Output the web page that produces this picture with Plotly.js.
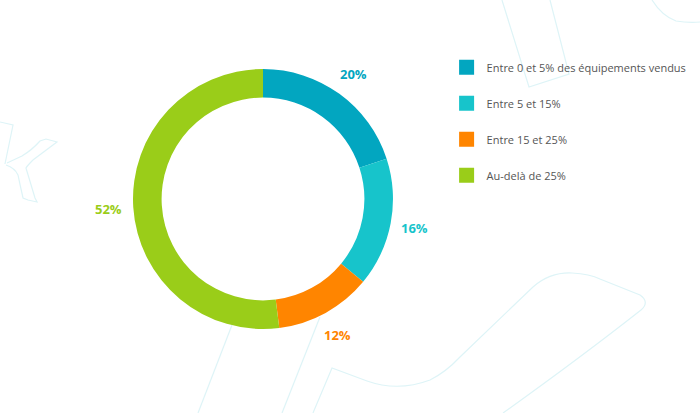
<!DOCTYPE html>
<html>
<head>
<meta charset="utf-8">
<script src="https://cdn.plot.ly/plotly-3.0.1.min.js"></script>
<style>
  html, body { margin: 0; padding: 0; background: #ffffff; }
  #chart { width: 700px; height: 413px; }
</style>
</head>
<body>
<div id="chart"></div>
<script>
// Données
var categories = [
    "Entre 0 et 5% des équipements vendus",
    "Entre 5 et 15%",
    "Entre 15 et 25%",
    "Au-delà de 25%"
];
var values = [20, 16, 12, 52];

var colors = ["#02a6c0", "#17c4cb", "#ff8500", "#9acd19"];
var decoColor = "#def4f7";

var W = 700, H = 413;
var pieDomain = { x: [0.19, 0.5614], y: [0.2034, 0.8329] };

var traces = [];

// Anneau principal
traces.push({
    type: "pie",
    labels: categories,
    values: values,
    hole: 0.78,
    sort: false,
    direction: "clockwise",
    rotation: 0,
    showlegend: false,
    marker: { colors: colors, line: { width: 0 } },
    textinfo: "none",
    hoverinfo: "label+percent",
    domain: pieDomain
});

// Légende : une entrée par catégorie (pour pouvoir espacer les lignes)
for (var i = 0; i < categories.length; i++) {
    traces.push({
        type: "scatter",
        mode: "markers",
        x: [null],
        y: [null],
        name: categories[i],
        legendgroup: "g" + i,
        marker: { symbol: "square", size: 15, color: colors[i] },
        hoverinfo: "skip"
    });
}

// Étiquettes de pourcentage, à l'extérieur de l'anneau, au milieu de chaque part
var total = values.reduce(function(a, b) { return a + b; }, 0);
var cx = (pieDomain.x[0] + pieDomain.x[1]) / 2 * W;
var cy = (pieDomain.y[0] + pieDomain.y[1]) / 2 * H;
var rOuter = (pieDomain.x[1] - pieDomain.x[0]) * W / 2;
var labelR = rOuter * 1.19;
var annotations = [];
var cum = 0;
for (var j = 0; j < values.length; j++) {
    var mid = (cum + values[j] / 2) / total * 2 * Math.PI;
    cum += values[j];
    annotations.push({
        xref: "paper", yref: "paper",
        x: (cx + labelR * Math.sin(mid)) / W,
        y: (cy + labelR * Math.cos(mid)) / H,
        xanchor: "center", yanchor: "middle",
        text: Math.round(values[j] / total * 100) + "%",
        showarrow: false,
        font: { family: "Open Sans", size: 13, color: colors[j], weight: "bold" }
    });
}

// Motifs décoratifs en fond (logo très pâle)
var deco = [
    "M198,413 L232,325",
    "M282,413 L320,317",
    "M313,413 L332,368 L367,381 Q398,392 430,380 Q446,372 460,357 L533,287 Q550,272 572,273 Q590,274 600,279 L640,295 Q650,302 641,310 Q580,358 503,413",
    "M502,0 L529,87 L569,74 L550,0",
    "M652,0 Q662,16 676,21 Q688,23 700,22",
    "M0,122 L13,125 L5,164",
    "M7,163 L22,156 Q32,150 40,141 L46,139 L57,142 L33,160 Q27,166 26,168 L35,198 L37,202 L28,200 L23,198 Q20,185 18,175 Q15,168 6,165"
];
var shapes = deco.map(function(p) {
    return {
        type: "path",
        xref: "paper", yref: "paper",
        // chemins en pixels -> coordonnées papier
        path: p.replace(/(-?\d+\.?\d*),(-?\d+\.?\d*)/g, function(m, x, y) {
            return (x / W).toFixed(4) + "," + (1 - y / H).toFixed(4);
        }),
        line: { color: decoColor, width: 1.2 },
        layer: "below"
    };
});

var layout = {
    width: W,
    height: H,
    margin: { t: 0, r: 0, l: 0, b: 0 },
    paper_bgcolor: "#ffffff",
    plot_bgcolor: "rgba(0,0,0,0)",
    font: { family: "Open Sans", color: "#555555" },
    xaxis: { visible: false, range: [0, 1] },
    yaxis: { visible: false, range: [0, 1] },
    showlegend: true,
    legend: {
        x: 0.638,
        y: 0.872,
        xanchor: "left",
        yanchor: "top",
        bgcolor: "rgba(0,0,0,0)",
        font: { family: "Open Sans", size: 11, color: "#555555" },
        tracegroupgap: 17,
        itemclick: false,
        itemdoubleclick: false
    },
    annotations: annotations,
    shapes: shapes
};

Plotly.newPlot("chart", traces, layout, { displayModeBar: false, staticPlot: true });
</script>
</body>
</html>
